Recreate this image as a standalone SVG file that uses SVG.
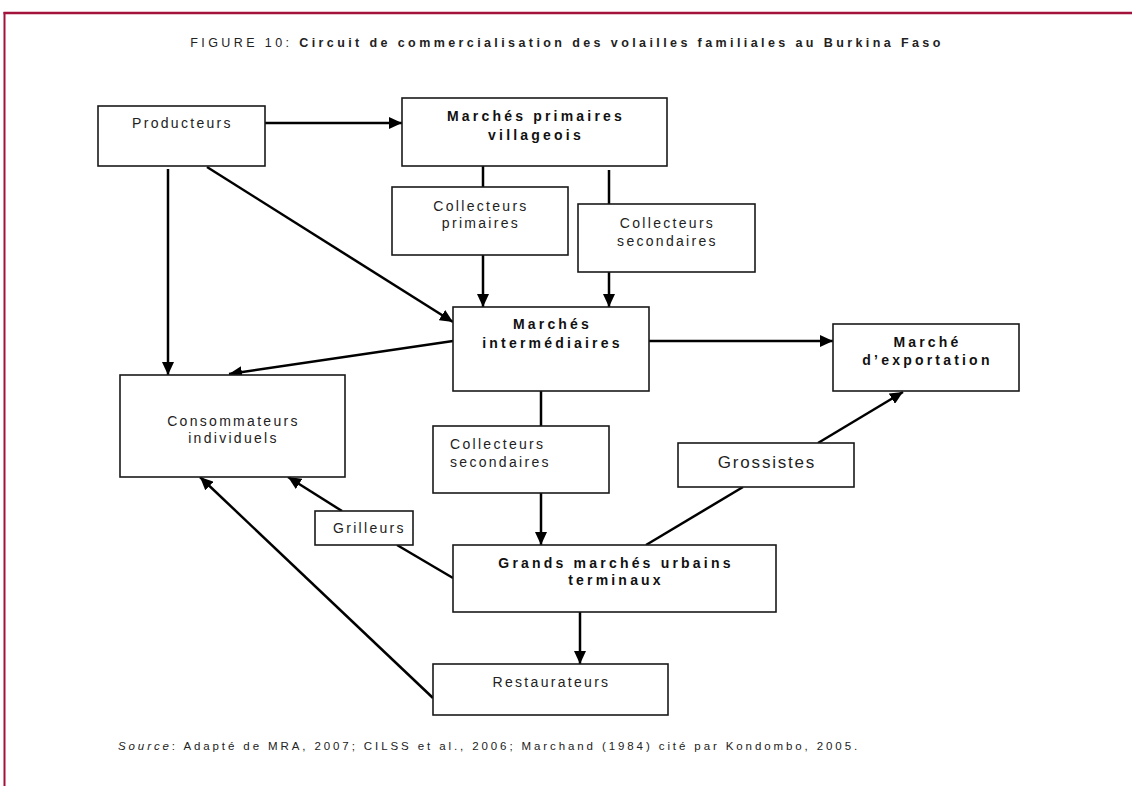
<svg xmlns="http://www.w3.org/2000/svg" width="1132" height="786" viewBox="0 0 1132 786">
<defs>
<marker id="ah" markerUnits="userSpaceOnUse" markerWidth="14" markerHeight="12" refX="13" refY="6" orient="auto">
<path d="M0,0 L13,6 L0,12 z" fill="#000"/>
</marker>
<style>
.box{fill:#fff;stroke:#1a1a1a;stroke-width:1.6}
.t{font-family:"Liberation Sans",Arial,sans-serif;font-size:14px;letter-spacing:2.3px;fill:#222}
.b{font-family:"Liberation Sans",Arial,sans-serif;font-size:14px;font-weight:bold;letter-spacing:3.2px;fill:#111}
.c{text-anchor:middle}
.ln{stroke:#000;stroke-width:2.5;fill:none}
.ar{stroke:#000;stroke-width:2.5;fill:none;marker-end:url(#ah)}
.cap{font-family:"Liberation Sans",Arial,sans-serif;fill:#222}
</style>
</defs>
<rect width="1132" height="786" fill="#fff"/>
<g id="frame">
<line x1="3.5" y1="13" x2="1132" y2="13" stroke="#a3123a" stroke-width="2.5"/>
<line x1="4.5" y1="12" x2="4.5" y2="786" stroke="#a3123a" stroke-width="2"/>
</g>
<text id="title" class="cap" x="567" y="47" text-anchor="middle" font-size="12.5" letter-spacing="3.4">FIGURE 10: <tspan font-weight="bold">Circuit de commercialisation des volailles familiales au Burkina Faso</tspan></text>
<g id="connectors">
<line class="ar" x1="265" y1="123" x2="402" y2="123"/>
<line class="ar" x1="168" y1="169" x2="168" y2="375"/>
<line class="ar" x1="207" y1="167" x2="453" y2="322"/>
<line class="ln" x1="483" y1="166" x2="483" y2="187"/>
<line class="ar" x1="483" y1="255" x2="483" y2="307"/>
<line class="ln" x1="609" y1="170" x2="609" y2="204"/>
<line class="ar" x1="609" y1="272" x2="609" y2="307"/>
<line class="ar" x1="453" y1="341" x2="229" y2="374"/>
<line class="ar" x1="649" y1="341" x2="833" y2="341"/>
<line class="ln" x1="541" y1="391" x2="541" y2="426"/>
<line class="ar" x1="541" y1="493" x2="541" y2="545"/>
<line class="ln" x1="646" y1="545" x2="743" y2="487"/>
<line class="ar" x1="818" y1="443" x2="903" y2="392"/>
<line class="ln" x1="453" y1="578" x2="397" y2="545"/>
<line class="ar" x1="342" y1="511" x2="288" y2="477"/>
<line class="ar" x1="580" y1="612" x2="580" y2="664"/>
<line class="ar" x1="433" y1="698" x2="200" y2="477"/>
</g>
<g id="producteurs">
<rect class="box" x="98" y="106" width="167" height="60"/>
<text class="t c" x="182.5" y="128">Producteurs</text>
</g>
<g id="marches-primaires">
<rect class="box" x="402" y="98" width="265" height="68"/>
<text class="b c" x="536" y="121">Marchés primaires</text>
<text class="b c" x="536" y="140">villageois</text>
</g>
<g id="collecteurs-primaires">
<rect class="box" x="392" y="187" width="176" height="68"/>
<text class="t c" x="481" y="211">Collecteurs</text>
<text class="t c" x="481" y="228">primaires</text>
</g>
<g id="collecteurs-secondaires-1">
<rect class="box" x="578" y="204" width="177" height="68"/>
<text class="t c" x="667.5" y="228">Collecteurs</text>
<text class="t c" x="667.5" y="246">secondaires</text>
</g>
<g id="marches-intermediaires">
<rect class="box" x="453" y="307" width="196" height="84"/>
<text class="b c" x="552.5" y="329">Marchés</text>
<text class="b c" x="552.5" y="348">intermédiaires</text>
</g>
<g id="marche-exportation">
<rect class="box" x="833" y="324" width="186" height="67"/>
<text class="b c" x="927.5" y="347">Marché</text>
<text class="b c" x="927.5" y="365">d’exportation</text>
</g>
<g id="consommateurs">
<rect class="box" x="120" y="375" width="225" height="102"/>
<text class="t c" x="233.5" y="426">Consommateurs</text>
<text class="t c" x="233.5" y="443">individuels</text>
</g>
<g id="collecteurs-secondaires-2">
<rect class="box" x="433" y="426" width="176" height="67"/>
<text class="t" x="450" y="449">Collecteurs</text>
<text class="t" x="450" y="467">secondaires</text>
</g>
<g id="grossistes">
<rect class="box" x="678" y="443" width="176" height="44"/>
<text class="t c" x="767" y="468" style="font-size:17px;letter-spacing:1.8px">Grossistes</text>
</g>
<g id="grilleurs">
<rect class="box" x="315" y="511" width="98" height="34"/>
<text class="t" x="333" y="533">Grilleurs</text>
</g>
<g id="grands-marches">
<rect class="box" x="453" y="545" width="323" height="67"/>
<text class="b c" x="616" y="568">Grands marchés urbains</text>
<text class="b c" x="616" y="585">terminaux</text>
</g>
<g id="restaurateurs">
<rect class="box" x="433" y="664" width="235" height="51"/>
<text class="t c" x="551.5" y="687">Restaurateurs</text>
</g>
<text id="source" class="cap" x="118" y="750" font-size="11.5" letter-spacing="2.9"><tspan font-style="italic">Source</tspan>: Adapté de MRA, 2007; CILSS et al., 2006; Marchand (1984) cité par Kondombo, 2005.</text>
</svg>
